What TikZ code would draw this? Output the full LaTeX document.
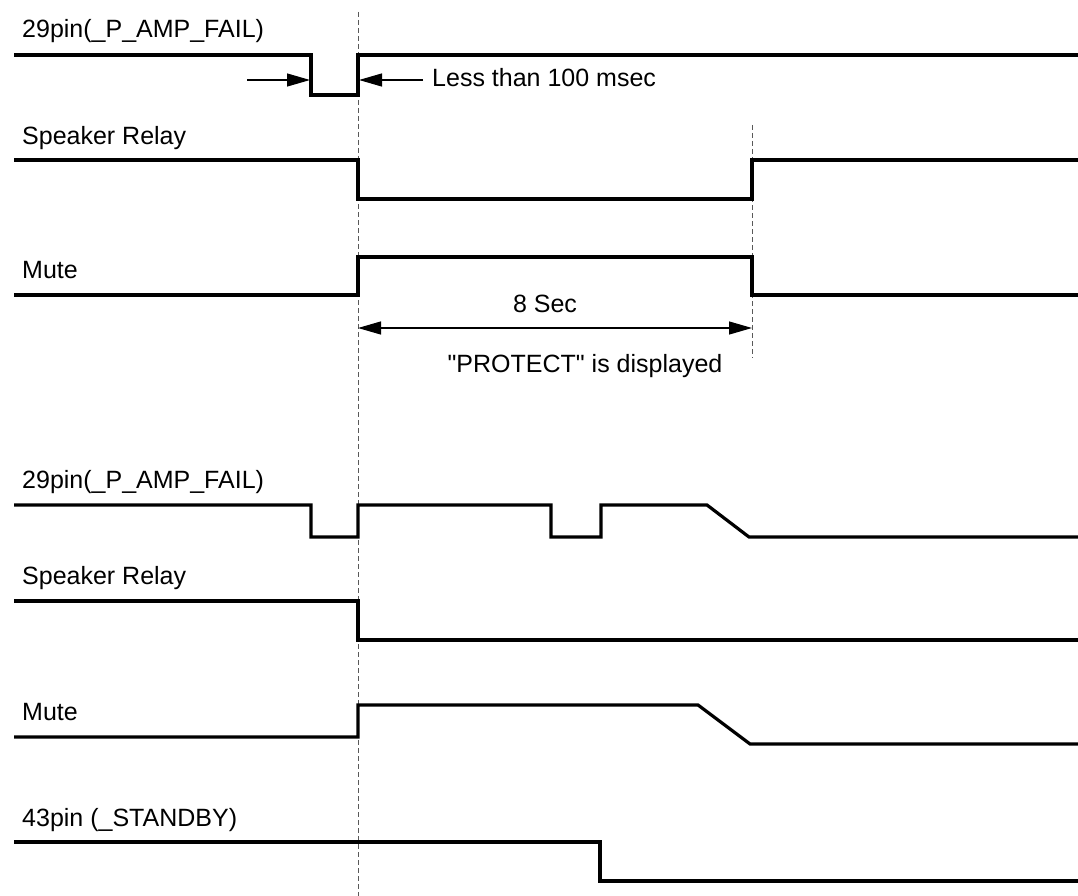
\documentclass[tikz,border=0pt]{standalone}
\usepackage{fontspec}
\setmainfont{Liberation Sans}[Ligatures=TeXOff]
\usetikzlibrary{arrows.meta}
\begin{document}
\begin{tikzpicture}[x=1pt,y=-1pt,
  sig/.style={line width=3.2pt,line join=miter},
  guide/.style={line width=1pt,draw=gray!70!black,dash pattern=on 5pt off 3pt},
  lbl/.style={anchor=base west,inner sep=0pt,font=\fontsize{25}{30}\selectfont},
  ctr/.style={anchor=base,inner sep=0pt,font=\fontsize{25}{30}\selectfont},
  dim/.style={line width=1.2pt,-{Triangle[length=23pt,width=13pt]}},
  dimboth/.style={line width=1.2pt,{Triangle[length=23pt,width=13pt]}-{Triangle[length=23pt,width=13pt]}}]
\useasboundingbox (0,0) rectangle (1078,896);
% guide lines
\coordinate (g1t) at (358,12);
\coordinate (g1b) at (358,896);
\coordinate (g2t) at (752,125);
\coordinate (g2b) at (752,358);
\draw[guide] (g1t) -- (g1b);
\draw[guide] (g2t) -- (g2b);
% labels
\node[lbl] (l1) at (22,38) {29pin(\_P\_AMP\_FAIL)};
\node[lbl] (l2) at (22,145) {Speaker Relay};
\node[lbl] (l3) at (22,278) {Mute};
\node[lbl] (l4) at (22,488) {29pin(\_P\_AMP\_FAIL)};
\node[lbl] (l5) at (22,584) {Speaker Relay};
\node[lbl] (l6) at (22,720) {Mute};
\node[lbl] (l7) at (22,826) {43pin (\_STANDBY)};
\node[lbl] (less) at (432,87) {Less than 100 msec};
\node[ctr] (sec) at (545,312) {8 Sec};
\node[ctr] (prot) at (585,372) {"PROTECT" is displayed};
% top waveforms
\draw[sig] (14,55) -- (311,55) -- (311,95) -- (358,95) -- (358,55) -- (1078,55);
\draw[sig] (14,160) -- (358,160) -- (358,199) -- (752,199) -- (752,160) -- (1078,160);
\draw[sig] (14,295) -- (358,295) -- (358,257) -- (752,257) -- (752,295) -- (1078,295);
% bottom waveforms
\draw[sig] (14,505) -- (311,505) -- (311,537) -- (358,537) -- (358,505) -- (551,505) -- (551,537) -- (601,537) -- (601,505) -- (707,505) -- (749,537) -- (1078,537);
\draw[sig] (14,601) -- (358,601) -- (358,640) -- (1078,640);
\draw[sig] (14,737) -- (358,737) -- (358,705) -- (698,705) -- (750,744) -- (1078,744);
\draw[sig] (14,842) -- (600,842) -- (600,881) -- (1078,881);
% arrows
\coordinate (a1s) at (247,80);
\coordinate (a1e) at (310,80);
\coordinate (a2s) at (423,80);
\coordinate (a2e) at (359,80);
\draw[dim] (a1s) -- (a1e);
\draw[dim] (a2s) -- (a2e);
\coordinate (d1) at (358,328);
\coordinate (d2) at (752,328);
\draw[dimboth] (d1) -- (d2);
\end{tikzpicture}
\end{document}
